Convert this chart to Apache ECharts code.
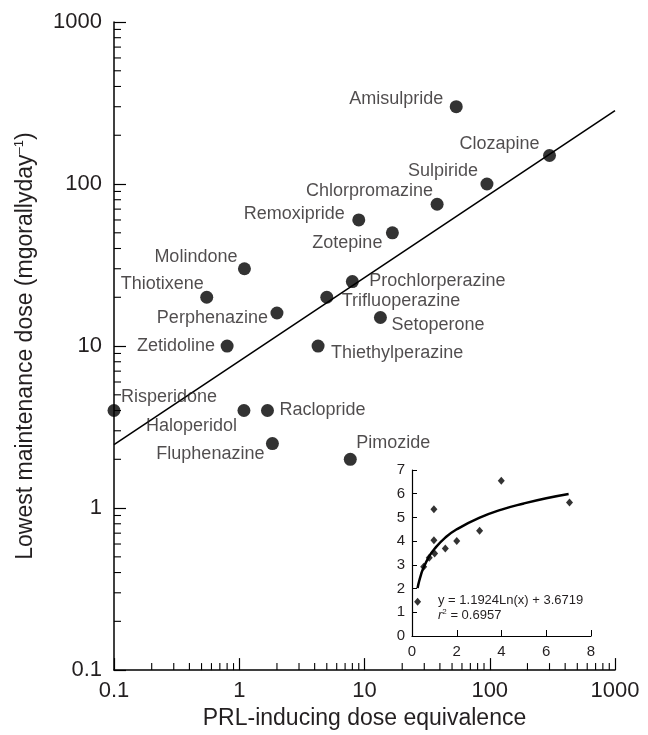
<!DOCTYPE html>
<html>
<head>
<meta charset="utf-8">
<script src="https://cdn.jsdelivr.net/npm/echarts@6/dist/echarts.min.js"></script>
<style>
html,body{margin:0;padding:0;background:#fff;}
#chart{width:648px;height:735px;}
</style>
</head>
<body>
<div id="chart"></div>
<script>
// ---- Main chart data ----
const drugNames = ['Amisulpride','Clozapine','Sulpiride','Chlorpromazine','Remoxipride','Zotepine',
  'Molindone','Thiotixene','Perphenazine','Zetidoline','Prochlorperazine','Trifluoperazine',
  'Setoperone','Thiethylperazine','Risperidone','Haloperidol','Raclopride','Fluphenazine','Pimozide'];
const prlEquivalence = [54, 300, 95, 38, 9, 16.7, 1.1, 0.55, 2, 0.8, 8, 5, 13.4, 4.26, 0.1, 1.09, 1.68, 1.84, 7.7];
const lowestDose = [300, 150, 100, 75, 60, 50, 30, 20, 16, 10, 25, 20, 15, 10, 4, 4, 4, 2.5, 2];
// regression line endpoints
const fitLineX = [0.1, 1000];
const fitLineY = [2.46, 284];
// axis tick labels
const logTickLabels = ['0.1', '1', '10', '100', '1000'];

// ---- Inset data ----
const insetX = [0.25, 0.52, 0.77, 0.98, 0.98, 1.01, 1.49, 2.0, 3.02, 3.99, 7.04];
const insetY = [1.44, 2.92, 3.3, 4.04, 5.35, 3.48, 3.69, 4.01, 4.44, 6.55, 5.63];
const curveX = [0.25, 0.3, 0.4, 0.5, 0.75, 1, 1.5, 2, 3, 4, 5, 6, 7];
const curveY = [2.02, 2.24, 2.58, 2.85, 3.33, 3.67, 4.16, 4.50, 4.98, 5.33, 5.59, 5.81, 5.99];
const insetXTicks = ['0','2','4','6','8'];
const insetYTicks = ['0','1','2','3','4','5','6','7'];

// ---- Layout (label placement relative to the dot: align, dx, dy) ----
const labelPlacement = {
  Amisulpride: ['right', -13, -8], Clozapine: ['right', -10, -11], Sulpiride: ['right', -9, -13],
  Chlorpromazine: ['right', -4, -13], Remoxipride: ['right', -14, -6], Zotepine: ['right', -10, 10],
  Molindone: ['right', -7, -12], Thiotixene: ['right', -3, -13], Perphenazine: ['right', -9, 5],
  Zetidoline: ['right', -12, 0], Prochlorperazine: ['left', 17, -1], Trifluoperazine: ['left', 15, 4],
  Setoperone: ['left', 11, 8], Thiethylperazine: ['left', 13, 7], Risperidone: ['left', 7, -13],
  Haloperidol: ['right', -7, 16], Raclopride: ['left', 12, 0], Fluphenazine: ['right', -8, 10],
  Pimozide: ['left', 6, -16]
};

const FONT = 'Liberation Sans, Arial, Helvetica, sans-serif';
const TXT = '#231f20';
const DOT = 13;

const minorMult = [2,3,4,5,6,7,8,9];
const decadeStarts = [0.1, 1, 10, 100];
const minorVals = [];
decadeStarts.forEach(d => minorMult.forEach(m => minorVals.push(+(d*m).toPrecision(3))));

const scatterData = drugNames.map((n, i) => {
  const p = labelPlacement[n];
  return {
    name: n,
    value: [prlEquivalence[i], lowestDose[i]],
    label: {
      show: true, formatter: n, align: p[0], verticalAlign: 'middle',
      position: [DOT/2 + p[1], DOT/2 + p[2]],
      fontSize: 18, fontFamily: FONT, color: TXT
    }
  };
});

const chart = echarts.init(document.getElementById('chart'), null, {renderer: 'canvas'});
const option = {
  backgroundColor: '#fff',
  animation: false,
  grid: [
    {left: 114, right: 33, top: 22, bottom: 63},
    {left: 412, right: 57, top: 470, bottom: 99}
  ],
  xAxis: [
    {
      type: 'log', logBase: 10, min: 0.1, max: 1000, gridIndex: 0,
      axisLine: {lineStyle: {color: '#000', width: 1.5}},
      axisTick: {show: true, inside: true, length: 12, lineStyle: {color: '#000', width: 1.2}},
      axisLabel: {fontSize: 22, fontFamily: FONT, color: TXT, margin: 10,
        formatter: v => logTickLabels[Math.round(Math.log10(v)) + 1]},
      splitLine: {show: false},
      name: 'PRL-inducing dose equivalence', nameLocation: 'middle', nameGap: 33,
      nameTextStyle: {fontSize: 23, fontFamily: FONT, color: TXT}
    },
    {
      type: 'value', min: 0, max: 8, interval: 2, gridIndex: 1,
      axisLine: {lineStyle: {color: '#000', width: 1.2}},
      axisTick: {show: true, inside: true, length: 6, lineStyle: {color: '#000', width: 1}},
      axisLabel: {fontSize: 15, fontFamily: FONT, color: TXT, margin: 8,
        formatter: v => insetXTicks[v/2]},
      splitLine: {show: false}
    }
  ],
  yAxis: [
    {
      type: 'log', logBase: 10, min: 0.1, max: 1000, gridIndex: 0,
      axisLine: {lineStyle: {color: '#000', width: 1.5}},
      axisTick: {show: true, inside: true, length: 12, lineStyle: {color: '#000', width: 1.2}},
      axisLabel: {fontSize: 22, fontFamily: FONT, color: TXT, margin: 12,
        formatter: v => logTickLabels[Math.round(Math.log10(v)) + 1]},
      splitLine: {show: false},
      name: 'Lowest maintenance dose (mgorallyday{sup|–1})', nameLocation: 'middle', nameGap: 76,
      nameRotate: 90,
      nameTextStyle: {fontSize: 23, fontFamily: FONT, color: TXT,
        rich: {sup: {fontSize: 13, fontFamily: FONT, color: TXT, padding: [0, 0, 12, 0]}}}
    },
    {
      type: 'value', min: 0, max: 7, interval: 1, gridIndex: 1,
      axisLine: {lineStyle: {color: '#000', width: 1.2}},
      axisTick: {show: true, inside: true, length: 5, lineStyle: {color: '#000', width: 1}},
      axisLabel: {fontSize: 15, fontFamily: FONT, color: TXT, margin: 7,
        formatter: v => insetYTicks[v]},
      splitLine: {show: false}
    }
  ],
  graphic: [
    {type: 'text', left: 438, top: 594, style: {text: 'y = 1.1924Ln(x) + 3.6719', font: '13px ' + FONT, fill: TXT}},
    {type: 'text', left: 438, top: 608, style: {
      text: '{i|r}{s|2} = 0.6957', font: '13px ' + FONT, fill: TXT,
      rich: {i: {fontStyle: 'italic', fontSize: 13, fontFamily: FONT, fill: TXT},
             s: {fontSize: 8, fontFamily: FONT, fill: TXT, padding: [0, 0, 7, 0]}}
    }}
  ],
  series: [
    {
      type: 'line', xAxisIndex: 0, yAxisIndex: 0, clip: false, symbol: 'none',
      data: fitLineX.map((x, i) => [x, fitLineY[i]]),
      lineStyle: {color: '#000', width: 1.5}, z: 2
    },
    {
      type: 'scatter', xAxisIndex: 0, yAxisIndex: 0, clip: false, symbolSize: DOT,
      itemStyle: {color: '#000'}, data: scatterData, z: 3
    },
    {
      type: 'custom', xAxisIndex: 0, yAxisIndex: 0, silent: true,
      data: minorVals.map(v => [0.1, v]),
      renderItem: (params, api) => {
        const p = api.coord([api.value(0), api.value(1)]);
        return {type: 'line', shape: {x1: p[0], y1: p[1], x2: p[0] + 7, y2: p[1]},
          style: {stroke: '#000', lineWidth: 1.1}};
      }
    },
    {
      type: 'custom', xAxisIndex: 0, yAxisIndex: 0, silent: true,
      data: minorVals.map(v => [v, 0.1]),
      renderItem: (params, api) => {
        const p = api.coord([api.value(0), api.value(1)]);
        return {type: 'line', shape: {x1: p[0], y1: p[1], x2: p[0], y2: p[1] - 7},
          style: {stroke: '#000', lineWidth: 1.1}};
      }
    },
    {
      type: 'line', xAxisIndex: 1, yAxisIndex: 1, symbol: 'none', smooth: true,
      data: curveX.map((x, i) => [x, curveY[i]]),
      lineStyle: {color: '#000', width: 2.5}
    },
    {
      type: 'scatter', xAxisIndex: 1, yAxisIndex: 1, symbol: 'diamond', symbolSize: [7, 8],
      itemStyle: {color: '#000'},
      data: insetX.map((x, i) => [x, insetY[i]])
    }
  ]
};
chart.setOption(option);
</script>
</body>
</html>
